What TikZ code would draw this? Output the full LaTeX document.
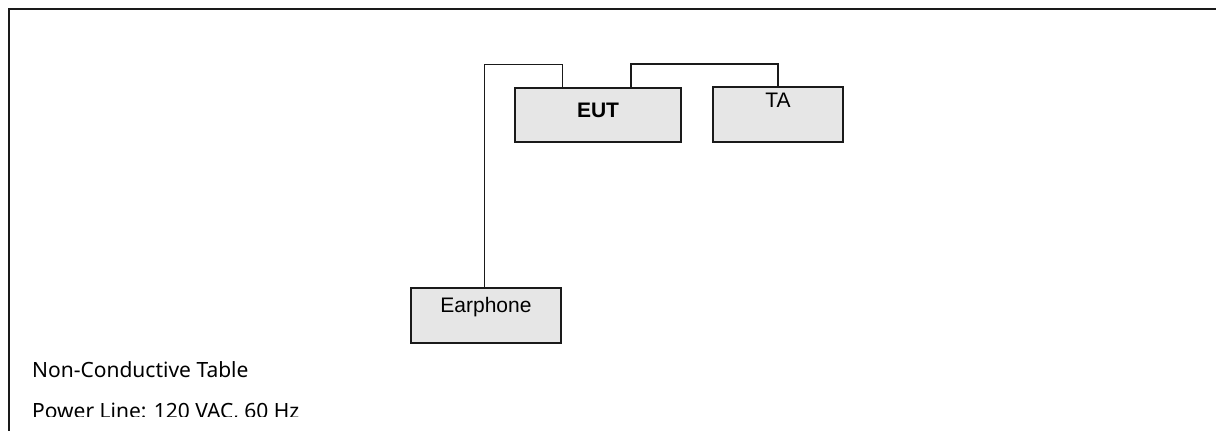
\documentclass[tikz,border=0pt]{standalone}
\usepackage{fontspec}
\setmainfont{Liberation Sans}
\newfontfamily\notosans{Noto Sans}
\definecolor{boxfill}{HTML}{E6E6E6}
\definecolor{linecol}{HTML}{1A1A1A}
\begin{document}
\begin{tikzpicture}[x=1pt,y=-1pt,
  devbox/.style={draw=linecol,fill=boxfill,line width=1.3pt,rectangle,inner sep=0pt},
  boxlabel/.style={anchor=base,inner sep=0pt,font=\fontsize{21}{25}\selectfont},
  notelabel/.style={anchor=base west,inner sep=0pt,font=\notosans\fontsize{21}{25}\selectfont},
  cablethin/.style={draw=linecol,line width=1pt},
  cablethick/.style={draw=linecol,line width=2pt}]
\useasboundingbox (0,0) rectangle (1216,431);
% frame (top and left only)
\draw[linecol,line width=2pt] (8.5,431) -- (8.5,8.5) -- (1216,8.5);
% boxes
\node[devbox,minimum width=166pt,minimum height=54pt] (eut) at (598,115) {};
\node[devbox,minimum width=130pt,minimum height=55pt] (ta) at (778,114.5) {};
\node[devbox,minimum width=150pt,minimum height=55pt] (earph) at (486,315.5) {};
% labels
\node[boxlabel,font=\bfseries\fontsize{21}{25}\selectfont] (eutl) at (598,117) {EUT};
\node[boxlabel] (tal) at (778,107) {TA};
\node[boxlabel] (earphl) at (486,312) {Earphone};
% cables
\draw[cablethin] ([xshift=-2pt]earph.north) |- ([xshift=-36pt,yshift=23pt]eut.north) -- ([xshift=-36pt]eut.north);
\draw[cablethick] ([xshift=33pt]eut.north) -- ++(0,-23) -| (ta.north);
% notes
\node[notelabel] (table) at (32,377) {Non-Conductive Table};
\begin{scope}
\clip (0,0) rectangle (1216,416.5);
\node[notelabel] (power) at (32,418) {Power Line: 120 VAC, 60 Hz};
\end{scope}
\end{tikzpicture}
\end{document}
